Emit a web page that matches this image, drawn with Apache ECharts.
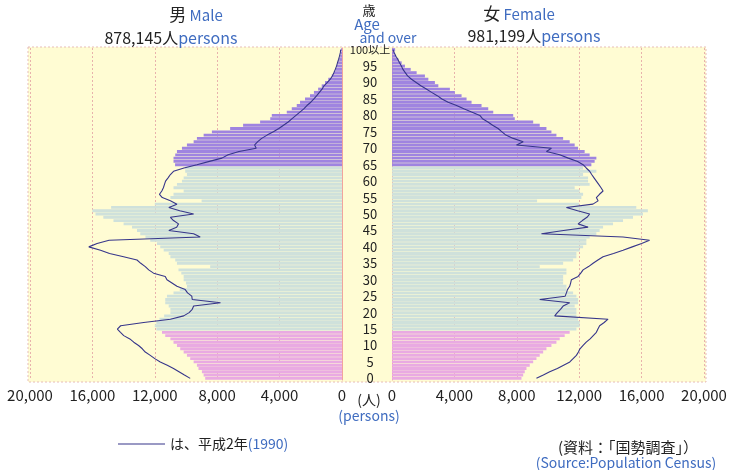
<!DOCTYPE html>
<html><head><meta charset="utf-8">
<script src="https://cdn.jsdelivr.net/npm/echarts@6/dist/echarts.min.js"></script>
<style>html,body{margin:0;padding:0;background:#fff}#c{width:738px;height:470px}</style>
</head><body><div id="c"></div>
<script>
// Age categories 0..99 and "100以上"
const ages = [];
for (let i = 0; i <= 100; i++) ages.push(i === 100 ? '100以上' : String(i));

// x tick labels (persons)
const xTicks = [0, 4000, 8000, 12000, 16000, 20000];

// Male population by age, 2000 (bars), index = age
const male2000 = [
  8770, 8870, 8980, 9200, 9300, 9510, 9730, 9940, 10150, 10370,
  10580, 10800, 11000, 11330, 11540, 11900, 12000, 11900, 11700, 11400,
  11000, 11000, 11110, 11330, 11330, 11220, 10800, 10400, 9940, 10000,
  10150, 10150, 10300, 10480, 8450, 10580, 10690, 11000, 11110, 11430,
  11650, 11860, 12290, 12600, 12930, 13140, 13460, 14000, 14650, 15300,
  15800, 16000, 14800, 12000, 9000, 11000, 10800, 10150, 10800, 10580,
  10260, 10150, 9940, 10050, 10050, 10700, 10800, 10800, 10690, 10580,
  10260, 9940, 9510, 9300, 8870, 8340, 7170, 6340, 5250, 4600,
  4500, 3540, 3220, 2900, 2690, 2370, 2050, 1800, 1530, 1300,
  1090, 880, 660, 520, 420, 330, 250, 180, 120, 80,
  60
];

// Female population by age, 2000 (bars)
const female2000 = [
  8300, 8410, 8510, 8620, 8830, 9050, 9260, 9470, 9690, 9900,
  10220, 10540, 10750, 11070, 11390, 11820, 12030, 12030, 11930, 11820,
  11820, 11820, 11710, 11930, 11930, 11820, 11610, 11180, 11180, 10970,
  10970, 10970, 11180, 11180, 9470, 10970, 11610, 11820, 11820, 12030,
  12250, 12460, 12460, 12670, 13100, 13310, 13530, 14170, 14810, 15450,
  16090, 16400, 15660, 12000, 9300, 12140, 12250, 12030, 11710, 12670,
  12570, 12570, 12250, 13100, 12250, 12780, 12990, 13100, 12670, 12350,
  11930, 11710, 11390, 10970, 10540, 10220, 9900, 9470, 9050, 7870,
  7770, 6490, 6170, 5740, 5100, 4780, 4460, 4030, 3710, 2970,
  2750, 2330, 2110, 1580, 1200, 830, 620, 405, 250, 150,
  200
];

// Male population by age, 1990 (line)
const male1990 = [
  9730, 10100, 10450, 10800, 11200, 11650, 12000, 12290, 12610, 12800,
  13040, 13350, 13600, 13990, 14200, 14400, 14190, 12710, 11000, 10150,
  9800, 9600, 9510, 7790, 9600, 9630, 9900, 10050, 10580, 10900,
  11220, 11330, 12080, 12390, 12610, 12900, 13140, 14000, 14900, 15480,
  16230, 15700, 14930, 9090, 9510, 11100, 10600, 10480, 10800, 11000,
  9510, 10400, 11100, 10580, 11000, 11520, 11700, 11550, 11450, 11380,
  11310, 11150, 11000, 10800, 10130, 9300, 8500, 7700, 7300, 6600,
  5500, 5600, 5400, 5150, 4800, 4400, 4050, 3750, 3450, 3200,
  2950, 2700, 2450, 2250, 2000, 1800, 1620, 1450, 1280, 1150,
  950, 750, 620, 520, 430, 350, 290, 220, 160, 110,
  80
];

// Female population by age, 1990 (line)
const female1990 = [
  9260, 9700, 10110, 10600, 11000, 11400, 11610, 11820, 11950, 12050,
  12250, 12450, 12700, 12900, 13100, 13200, 13310, 13600, 13850, 10430,
  10600, 10800, 10970, 11390, 9470, 11100, 11180, 11250, 11390, 11450,
  11500, 11930, 12100, 12250, 12600, 12890, 13200, 13530, 14200, 14810,
  15400, 16000, 16510, 14810, 9580, 11000, 12570, 11930, 12200, 12500,
  12670, 11900, 11180, 12880, 13210, 13100, 13300, 13530, 13400, 13250,
  13100, 12950, 12800, 12670, 12450, 12250, 11900, 11300, 10750, 9900,
  10220, 7980, 8410, 7770, 7300, 7050, 6800, 6450, 6150, 5800,
  5630, 5100, 4600, 4140, 3600, 3200, 2900, 2540, 2200, 1850,
  1550, 1250, 1000, 850, 700, 600, 480, 380, 250, 150,
  60
];

const BLUE = '#3f6cc0';
const TXT = '#222';
const FONT = '"Noto Sans CJK JP", "Noto Sans", sans-serif';
const PINK = '#e9aae2', TEAL = '#cfe1db', PURPLE = '#9f84e0';
const LINE = '#36358a';

function barColor(p) {
  const a = p.dataIndex;
  return a < 15 ? PINK : (a < 65 ? TEAL : PURPLE);
}
const fmt = v => Number(v).toLocaleString('en-US');

const chart = echarts.init(document.getElementById('c'), null, {renderer: 'canvas'});
const common = {
  type: 'value', min: xTicks[0], max: xTicks[xTicks.length - 1], interval: xTicks[1] - xTicks[0],
  axisLine: {show: false}, axisTick: {show: false},
  splitLine: {show: true, lineStyle: {color: '#e8b2ac', type: [2, 2], width: 1}},
  axisLabel: {formatter: fmt, fontSize: 15, color: TXT, fontFamily: FONT, margin: 8}
};
chart.setOption({
  animation: false,
  textStyle: {fontFamily: FONT},
  grid: [
    {left: 30, width: 312, top: 48, height: 332},
    {left: 392, width: 312, top: 48, height: 332}
  ],
  xAxis: [
    Object.assign({}, common, {gridIndex: 0, inverse: true}),
    Object.assign({}, common, {gridIndex: 1})
  ],
  yAxis: [
    {type: 'category', gridIndex: 0, data: ages, position: 'right',
     axisLine: {show: true, lineStyle: {color: '#f2a49c', width: 1}},
     axisTick: {show: false},
     axisLabel: {show: true, interval: (i) => i % 5 === 0, margin: 28, align: 'center',
       fontSize: 13, color: TXT, fontFamily: FONT,
       formatter: v => v === '100以上' ? '{s|100以上}' : v,
       rich: {s: {fontSize: 11, color: TXT, fontFamily: FONT}}}},
    {type: 'category', gridIndex: 1, data: ages, position: 'left',
     axisLine: {show: true, lineStyle: {color: '#f2a49c', width: 1}},
     axisTick: {show: false}, axisLabel: {show: false}}
  ],
  legend: {
    left: 113, top: 432, itemWidth: 47, itemHeight: 10, itemGap: 10,
    data: [{name: '1990', icon: 'path://M0,5 L47,5 L47,6 L0,6 Z'}],
    formatter: () => '{a|は、平成2年}{b|(1990)}',
    textStyle: {rich: {a: {fontSize: 14, color: TXT, fontFamily: FONT}, b: {fontSize: 14, color: BLUE, fontFamily: FONT}}}
  },
  series: [
    {name: 'male2000', type: 'bar', xAxisIndex: 0, yAxisIndex: 0, data: male2000,
     barCategoryGap: '12%', itemStyle: {color: barColor}, z: 2},
    {name: 'female2000', type: 'bar', xAxisIndex: 1, yAxisIndex: 1, data: female2000,
     barCategoryGap: '12%', itemStyle: {color: barColor}, z: 2},
    {name: '1990', type: 'line', xAxisIndex: 0, yAxisIndex: 0, data: male1990,
     symbol: 'none', lineStyle: {color: LINE, width: 1.1}, itemStyle: {color: LINE}, z: 5},
    {name: '1990', type: 'line', xAxisIndex: 1, yAxisIndex: 1, data: female1990,
     symbol: 'none', lineStyle: {color: LINE, width: 1.1}, itemStyle: {color: LINE}, z: 5}
  ],
  graphic: [
    {type: 'rect', z: -10, silent: true, shape: {x: 28, y: 47, width: 678, height: 335},
     style: {fill: '#fffcd3', stroke: '#e6bdb8', lineWidth: 1, lineDash: [2, 2]}},
    {type: 'text', x: 196, y: 15, style: {text: '{a|男} {b|Male}', align: 'center', verticalAlign: 'middle',
      rich: {a: {fontSize: 17, fill: TXT, fontFamily: FONT}, b: {fontSize: 15, fill: BLUE, fontFamily: FONT}}}},
    {type: 'text', x: 171, y: 38, style: {text: '{a|878,145人}{b|persons}', align: 'center', verticalAlign: 'middle',
      rich: {a: {fontSize: 16, fill: TXT, fontFamily: FONT}, b: {fontSize: 16, fill: BLUE, fontFamily: FONT}}}},
    {type: 'text', x: 519, y: 14, style: {text: '{a|女} {b|Female}', align: 'center', verticalAlign: 'middle',
      rich: {a: {fontSize: 17, fill: TXT, fontFamily: FONT}, b: {fontSize: 15, fill: BLUE, fontFamily: FONT}}}},
    {type: 'text', x: 534, y: 36, style: {text: '{a|981,199人}{b|persons}', align: 'center', verticalAlign: 'middle',
      rich: {a: {fontSize: 16, fill: TXT, fontFamily: FONT}, b: {fontSize: 16, fill: BLUE, fontFamily: FONT}}}},
    {type: 'text', x: 369, y: 10, style: {text: '歳', align: 'center', verticalAlign: 'middle', fontSize: 13, fill: TXT, fontFamily: FONT}},
    {type: 'text', x: 367, y: 24, style: {text: 'Age', align: 'center', verticalAlign: 'middle', fontSize: 15, fill: BLUE, fontFamily: FONT}},
    {type: 'text', x: 388, y: 38, style: {text: 'and over', align: 'center', verticalAlign: 'middle', fontSize: 14, fill: BLUE, fontFamily: FONT}},
    {type: 'text', x: 369, y: 400, style: {text: '(人)', align: 'center', verticalAlign: 'middle', fontSize: 14, fill: TXT, fontFamily: FONT}},
    {type: 'text', x: 369, y: 416, style: {text: '(persons)', align: 'center', verticalAlign: 'middle', fontSize: 14, fill: BLUE, fontFamily: FONT}},
    {type: 'text', x: 628, y: 447, style: {text: '(資料：「国勢調査」）', align: 'center', verticalAlign: 'middle', fontSize: 15, fill: TXT, fontFamily: FONT}},
    {type: 'text', x: 626, y: 463, style: {text: '(Source:Population Census)', align: 'center', verticalAlign: 'middle', fontSize: 14, fill: BLUE, fontFamily: FONT}}
  ]
});
</script></body></html>
